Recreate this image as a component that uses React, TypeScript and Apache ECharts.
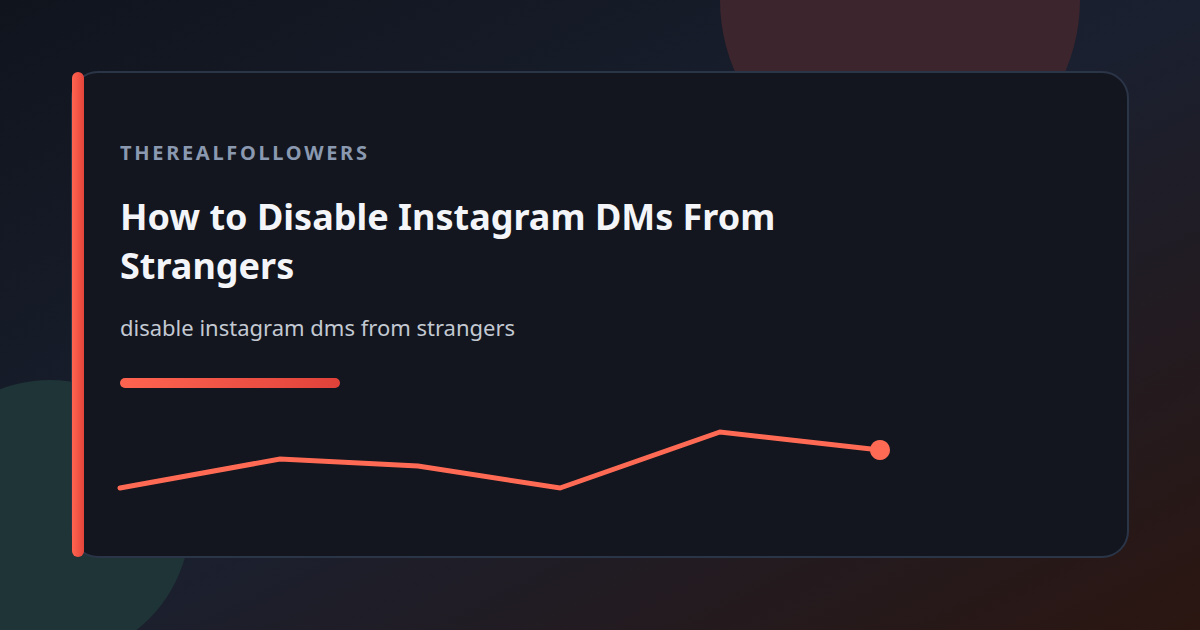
import { useEffect, useRef } from 'react';
import * as echarts from 'echarts';

const brand = 'THEREALFOLLOWERS';
const title = 'How to Disable Instagram DMs From Strangers';
const subtitle = 'disable instagram dms from strangers';

// sparkline points (x position along the track, value)
const trendX = [0, 160, 298, 440, 600, 760];
const trendY = [12, 41, 34, 12, 68, 50];

const FONT = '"Noto Sans", "Open Sans", sans-serif';

export default function App() {
  const chartRef = useRef<HTMLDivElement>(null);

  useEffect(() => {
    if (!chartRef.current) return;
    const chart = echarts.init(chartRef.current, null, { renderer: 'svg' });

    const option: echarts.EChartsOption = {
      animation: false,
      backgroundColor: new echarts.graphic.LinearGradient(0, 0, 1, 1, [
        { offset: 0, color: '#10141d' },
        { offset: 0.5, color: '#1a2030' },
        { offset: 1, color: '#2b1611' },
      ]),
      grid: { left: 120, width: 760, top: 400, height: 100 },
      xAxis: { type: 'value', min: 0, max: 760, show: false },
      yAxis: { type: 'value', min: 0, max: 100, show: false },
      graphic: [
        // background blobs
        { type: 'circle', shape: { cx: 900, cy: 0, r: 180 }, style: { fill: '#3d252d' }, z: 0 },
        { type: 'circle', shape: { cx: 50, cy: 520, r: 140 }, style: { fill: '#1e3436' }, z: 0 },
        // card
        {
          type: 'rect',
          shape: { x: 72, y: 72, width: 1056, height: 485, r: 26 },
          style: { fill: '#13161e', stroke: '#2b3548', lineWidth: 2 },
          z: 1,
        },
        // accent bar
        {
          type: 'rect',
          shape: { x: 72, y: 72, width: 12, height: 485, r: 6 },
          style: {
            fill: new echarts.graphic.LinearGradient(0, 0, 1, 0, [
              { offset: 0, color: '#ff6450' },
              { offset: 1, color: '#e4443a' },
            ]),
          },
          z: 2,
        },
        {
          type: 'text',
          x: 120,
          y: 152,
          style: {
            text: brand,
            fill: '#8a99b0',
            font: `bold 20px ${FONT}`,
            verticalAlign: 'middle',
          },
          z: 3,
        },
        {
          type: 'text',
          x: 120,
          y: 192,
          style: {
            text: title,
            fill: '#f3f5f8',
            font: `bold 36px ${FONT}`,
            lineHeight: 49,
            width: 720,
            overflow: 'break',
            verticalAlign: 'top',
          },
          z: 3,
        },
        {
          type: 'text',
          x: 120,
          y: 327,
          style: {
            text: subtitle,
            fill: '#c3c9d3',
            font: `22px ${FONT}`,
            verticalAlign: 'middle',
          },
          z: 3,
        },
        {
          type: 'rect',
          shape: { x: 120, y: 378, width: 220, height: 10, r: 5 },
          style: {
            fill: new echarts.graphic.LinearGradient(0, 0, 1, 0, [
              { offset: 0, color: '#ff6450' },
              { offset: 1, color: '#e0423a' },
            ]),
          },
          z: 3,
        },
      ],
      series: [
        {
          type: 'line',
          z: 10,
          symbol: 'none',
          showSymbol: true,
          lineStyle: { color: '#ff6a55', width: 5, cap: 'round', join: 'miter' },
          itemStyle: { color: '#ff6a55' },
          data: trendX.map((x, i) =>
            i === trendX.length - 1
              ? { value: [x, trendY[i]], symbol: 'circle', symbolSize: 20 }
              : { value: [x, trendY[i]] }
          ),
        },
      ],
    };

    chart.setOption(option);

    // zrender has no letter-spacing, so set it on the rendered svg text
    const spaceBrand = () => {
      chartRef.current?.querySelectorAll('text').forEach(t => {
        if (t.textContent === brand) t.setAttribute('letter-spacing', '2.7');
      });
    };
    spaceBrand();
    chart.on('finished', spaceBrand);

    return () => {
      chart.dispose();
    };
  }, []);

  return (
    <div
      ref={chartRef}
      style={{ position: 'fixed', left: 0, top: 0, width: 1200, height: 630 }}
    />
  );
}
